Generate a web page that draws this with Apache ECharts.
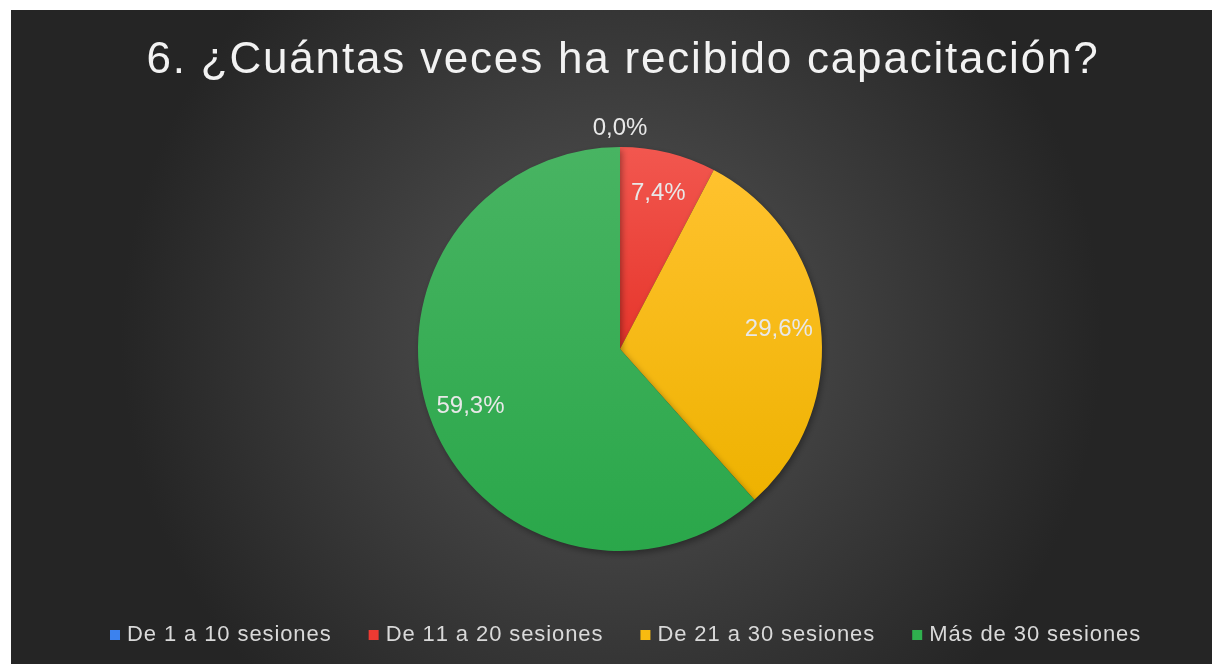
<!DOCTYPE html>
<html>
<head>
<meta charset="utf-8">
<script src="https://cdn.jsdelivr.net/npm/echarts@6/dist/echarts.min.js"></script>
<style>
  html, body { margin: 0; padding: 0; background: #ffffff; }
  #chart { position: absolute; left: 11px; top: 10px; width: 1201px; height: 654px; }
</style>
</head>
<body>
<div id="chart"></div>
<script>
// Survey answers: share of respondents (%) per training frequency
const titleText = '6. ¿Cuántas veces ha recibido capacitación?';
const categories = ['De 1 a 10 sesiones', 'De 11 a 20 sesiones', 'De 21 a 30 sesiones', 'Más de 30 sesiones'];
const percents = [0.0, 7.4, 29.6, 59.3];

const FONT = '"Liberation Sans", Arial, sans-serif';

const sliceColors = [
  ['#5a95f0', '#3a78e0'],
  ['#f2574f', '#e6352b'],
  ['#ffc22e', '#eeb200'],
  ['#48b462', '#2aa74a']
];
const legendColors = ['#3c82ee', '#ee3a32', '#f8bb10', '#2fb04e'];

function grad(pair) {
  return new echarts.graphic.LinearGradient(0, 0, 0, 1, [
    { offset: 0, color: pair[0] },
    { offset: 1, color: pair[1] }
  ]);
}

// wrap every character in a rich token so the text gets extra tracking
function tracked(text) {
  return Array.from(text).map(ch => '{t|' + ch + '}').join('');
}

const fmt = v => v.toFixed(1).replace('.', ',') + '%';
const center = [609, 339];
const R = 202;

const chart = echarts.init(document.getElementById('chart'), null, { renderer: 'canvas' });

const baseData = categories.map((name, i) => ({
  name,
  value: percents[i],
  itemStyle: { color: grad(sliceColors[i]) }
}));

const labelStyle = { color: '#e8e8e8', fontSize: 24, fontFamily: FONT };

chart.setOption({
  backgroundColor: new echarts.graphic.RadialGradient(0.5, 0.5, 0.75, [
    { offset: 0, color: '#565656' },
    { offset: 1, color: '#252525' }
  ]),
  title: {
    text: tracked(titleText),
    left: 607,
    textAlign: 'center',
    top: 24,
    textStyle: {
      color: '#f2f2f2',
      fontSize: 44,
      fontWeight: 'normal',
      fontFamily: FONT,
      rich: {
        t: { color: '#f2f2f2', fontSize: 44, fontFamily: FONT, padding: [0, 1.8, 0, 0] }
      }
    }
  },
  legend: {
    data: categories.map((name, i) => ({ name, itemStyle: { color: legendColors[i] } })),
    bottom: 13,
    left: 94,
    icon: 'rect',
    itemWidth: 10,
    itemHeight: 10,
    itemGap: 38,
    selectedMode: false,
    formatter: name => tracked(name),
    textStyle: {
      color: '#d9d9d9',
      fontSize: 22,
      fontFamily: FONT,
      padding: [0, 0, 0, 2],
      rich: {
        t: { color: '#d9d9d9', fontSize: 22, fontFamily: FONT, padding: [0, 0.9, 0, 0] }
      }
    }
  },
  series: [
    {
      // the pie itself
      type: 'pie',
      center,
      radius: R,
      startAngle: 90,
      clockwise: true,
      silent: true,
      label: { show: false },
      labelLine: { show: false },
      itemStyle: { shadowBlur: 6, shadowOffsetX: 2, shadowOffsetY: 3, shadowColor: 'rgba(0,0,0,0.35)' },
      data: baseData
    },
    {
      // transparent ring carrying the in-slice percentage labels
      type: 'pie',
      center,
      radius: [106, 208],
      startAngle: 90,
      silent: true,
      itemStyle: { color: 'rgba(0,0,0,0)' },
      labelLine: { show: false },
      data: categories.map((name, i) => ({
        name,
        value: percents[i],
        label: { show: percents[i] > 0, position: 'inside', formatter: () => fmt(percents[i]), ...labelStyle }
      }))
    },
    {
      // transparent outer ring for labels of empty slices
      type: 'pie',
      center,
      radius: [209, 227],
      startAngle: 90,
      silent: true,
      itemStyle: { color: 'rgba(0,0,0,0)' },
      labelLine: { show: false },
      data: categories.map((name, i) => ({
        name,
        value: percents[i],
        label: { show: percents[i] === 0, position: 'inside', formatter: () => fmt(percents[i]), ...labelStyle }
      }))
    }
  ]
});
</script>
</body>
</html>
